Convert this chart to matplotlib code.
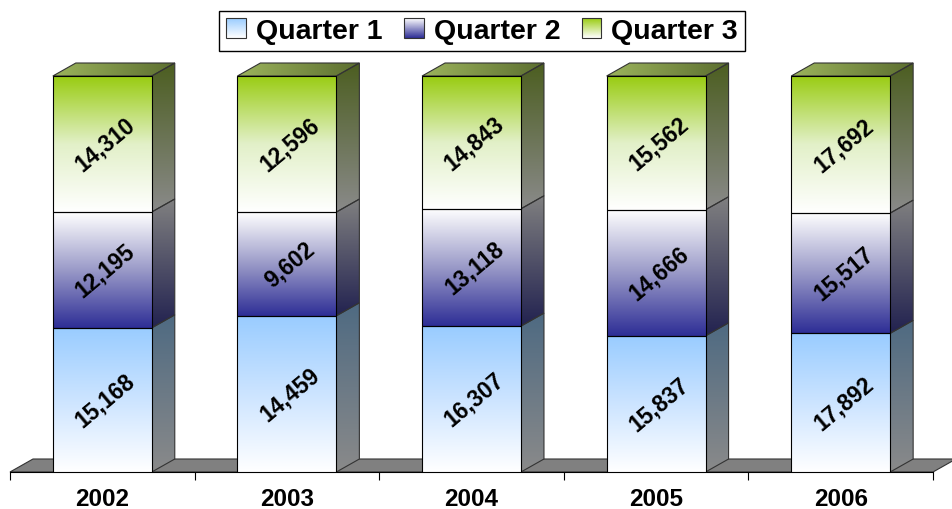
# 3D-look 100% stacked bars, quarter totals per year
import matplotlib
matplotlib.use('Agg')
import matplotlib.pyplot as plt
import numpy as np
from matplotlib.patches import Polygon, Rectangle
from matplotlib.colors import LinearSegmentedColormap
from matplotlib.image import BboxImage
from matplotlib.transforms import Bbox, TransformedBbox
from matplotlib.legend_handler import HandlerBase

plt.rcParams['font.family'] = ['Liberation Sans', 'DejaVu Sans']

# --- data ---
years = ['2002', '2003', '2004', '2005', '2006']
q1 = [15168, 14459, 16307, 15837, 17892]
q2 = [12195, 9602, 13118, 14666, 15517]
q3 = [14310, 12596, 14843, 15562, 17692]
series_names = ['Quarter 1', 'Quarter 2', 'Quarter 3']

# --- styles ---
# front face gradients (bottom -> top)
front_cols = [['#ffffff', '#cce4ff', '#99ccff'],
              ['#2e2e96', '#9a9ac8', '#ffffff'],
              ['#ffffff', '#e2f0c8', '#99cc11']]
# side face gradients (bottom -> top)
side_cols = [['#8a8a8a', '#4e6a82'],
             ['#222250', '#808080'],
             ['#8a8a8a', '#4c5e20']]
top_cols = ['#9cb45c', '#5c6e30']
bar_w = 0.536
dx = 23 / 184.6   # depth offset in x units
dy = 13 / 396     # depth offset in y units
ytop = 1.06


def grad_poly(ax, xy, colors, horizontal=False, z=2, ec='#333333'):
    xy = np.asarray(xy)
    ext = [xy[:, 0].min(), xy[:, 0].max(), xy[:, 1].min(), xy[:, 1].max()]
    cmap = LinearSegmentedColormap.from_list('g', colors)
    g = np.linspace(0, 1, 256)
    data = g.reshape(1, -1) if horizontal else g.reshape(-1, 1)
    im = ax.imshow(data, cmap=cmap, extent=ext, origin='lower', aspect='auto',
                   interpolation='bicubic', zorder=z)
    p = Polygon(xy, closed=True, facecolor='none', edgecolor=ec, lw=0.8,
                zorder=z + 0.1, clip_on=False)
    ax.add_patch(p)
    im.set_clip_path(p)
    return im


class GradHandler(HandlerBase):
    def __init__(self, colors):
        super().__init__()
        self.colors = colors

    def create_artists(self, legend, orig_handle, xdescent, ydescent,
                       width, height, fontsize, trans):
        bb = TransformedBbox(Bbox.from_bounds(-xdescent, -ydescent, width, height), trans)
        img = BboxImage(bb, cmap=LinearSegmentedColormap.from_list('h', self.colors),
                        interpolation='bicubic')
        img.set_data(np.linspace(1, 0, 64).reshape(-1, 1))
        rect = Rectangle((-xdescent, -ydescent), width, height, facecolor='none',
                         edgecolor='#333333', lw=0.8, transform=trans)
        return [img, rect]


fig = plt.figure(figsize=(9.53, 5.10), dpi=100)
ax = fig.add_axes([10 / 953, 37 / 510, 923 / 953, 396 * ytop / 510])

x = np.arange(len(years))
vals = np.array([q1, q2, q3], dtype=float)
fracs = vals / vals.sum(axis=0)
bottoms = np.vstack([np.zeros(len(years)), np.cumsum(fracs, axis=0)[:-1]])

# floor
floor = Polygon([(-0.5, 0), (4.5, 0), (4.5 + dx, dy), (-0.5 + dx, dy)], closed=True,
                facecolor='#808080', edgecolor='#333333', lw=0.8, clip_on=False, zorder=1)
ax.add_patch(floor)

for s in range(3):
    bars = ax.bar(x, fracs[s], bottom=bottoms[s], width=bar_w, facecolor='none',
                  edgecolor='black', lw=0.8, zorder=4)
    for i, b in enumerate(bars):
        x0, x1 = x[i] - bar_w / 2, x[i] + bar_w / 2
        y0, y1 = bottoms[s][i], bottoms[s][i] + fracs[s][i]
        im = ax.imshow(np.linspace(0, 1, 256).reshape(-1, 1),
                       cmap=LinearSegmentedColormap.from_list('f', front_cols[s]),
                       extent=[x0, x1, y0, y1], origin='lower', aspect='auto',
                       interpolation='bicubic', zorder=3)
        im.set_clip_path(b)
        # side face
        grad_poly(ax, [(x1, y0), (x1 + dx, y0 + dy), (x1 + dx, y1 + dy), (x1, y1)],
                  side_cols[s], z=2)
        ax.text(x[i] + 0.015, (y0 + y1) / 2, f'{int(vals[s][i]):,}', rotation=40,
                ha='center', va='center', fontsize=16.5, fontweight='bold',
                rotation_mode='anchor', zorder=6)

# top faces
for i in range(len(years)):
    x0, x1 = x[i] - bar_w / 2, x[i] + bar_w / 2
    grad_poly(ax, [(x0, 1), (x1, 1), (x1 + dx, 1 + dy), (x0 + dx, 1 + dy)],
              top_cols, horizontal=True, z=2)

ax.set_xlim(-0.5, 4.5)
ax.set_ylim(0, ytop)
for sp in ['top', 'right', 'left']:
    ax.spines[sp].set_visible(False)
ax.spines['bottom'].set_linewidth(0.8)
ax.set_yticks([])
ax.set_xticks(np.arange(-0.5, 5, 1))
ax.set_xticklabels([])
ax.tick_params(axis='x', which='major', direction='out', length=6, width=0.8)
ax.set_xticks(x, minor=True)
ax.set_xticklabels(years, minor=True, fontsize=17.5, fontweight='bold')
ax.tick_params(axis='x', which='minor', length=0, pad=11)
ax.patch.set_visible(False)

proxies = [Rectangle((0, 0), 1, 1) for _ in range(3)]
leg_cols = [['#ffffff', '#99ccff'], ['#2e2e96', '#ffffff'], ['#ffffff', '#99cc11']]
hmap = {p: GradHandler(c) for p, c in zip(proxies, leg_cols)}
fig.legend(proxies, series_names, handler_map=hmap, loc='upper center',
           bbox_to_anchor=(482 / 953, 1 - 12 / 510), borderaxespad=0, ncol=3,
           frameon=True, fancybox=False, edgecolor='black', framealpha=1,
           prop={'size': 20.5, 'weight': 'bold'}, handlelength=0.7, handleheight=0.7,
           handletextpad=0.35, columnspacing=0.75, borderpad=0.25)

fig.savefig('out.png', dpi=100)
